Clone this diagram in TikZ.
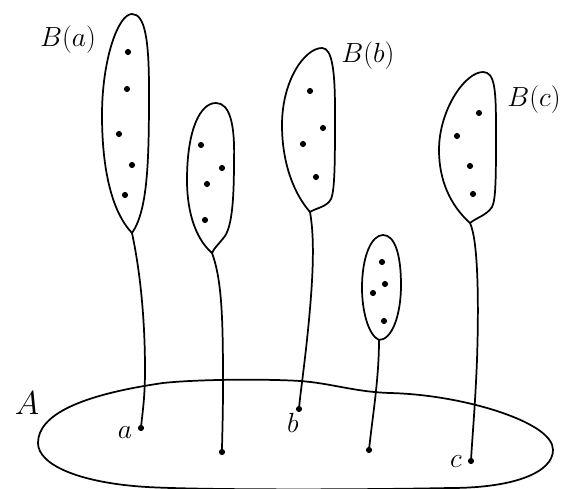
\documentclass[tikz,border=0pt]{standalone}
\begin{document}
\begin{tikzpicture}[x=0.75pt,y=-0.75pt,line width=1.3pt,line join=round,
  pt/.style={circle,fill=black,inner sep=0pt,minimum size=4.6pt},
  cusp/.style={inner sep=0pt,minimum size=0pt},
  lbl/.style={inner sep=0pt,font=\fontsize{20}{24}\selectfont},
  biglbl/.style={inner sep=0pt,font=\fontsize{36}{40}\selectfont}]
\useasboundingbox (0,0) rectangle (561,489);
% big set A
\draw (38,443) .. controls (38,415) and (80,395) .. (163,383)
  .. controls (200,379) and (270,379) .. (300,381)
  .. controls (330,383) and (355,392) .. (390,393)
  .. controls (430,394) and (470,402) .. (500,412)
  .. controls (535,424) and (553,437) .. (553,450)
  .. controls (553,472) and (515,488) .. (450,488)
  .. controls (350,490) and (200,490) .. (147,487)
  .. controls (80,483) and (38,465) .. (38,443) -- cycle;
% cusps
\node[cusp] (ca) at (132,233) {};
\node[cusp] (c2) at (212,253) {};
\node[cusp] (cb) at (310,212) {};
\node[cusp] (c5) at (379,340) {};
\node[cusp] (cc) at (470,223) {};
% blobs
\draw (132,233) .. controls (112,212) and (102,170) .. (102,115)
  .. controls (102,60) and (118,14) .. (132,14)
  .. controls (145,14) and (149,40) .. (149,90)
  .. controls (149,160) and (148,210) .. (132,233) -- cycle;
\draw (212,253) .. controls (197,240) and (187,215) .. (187,180)
  .. controls (187,130) and (200,103) .. (216,103)
  .. controls (230,103) and (235,125) .. (234,160)
  .. controls (234,200) and (232,225) .. (225,236)
  .. controls (219,244) and (214,248) .. (212,253) -- cycle;
\draw (310,212) .. controls (295,195) and (282,165) .. (282,125)
  .. controls (282,80) and (305,48) .. (322,48)
  .. controls (332,48) and (335,70) .. (335,110)
  .. controls (335,160) and (335,190) .. (331,199)
  .. controls (327,207) and (316,208) .. (310,212) -- cycle;
\draw (379,340) .. controls (368,335) and (362,310) .. (362,288)
  .. controls (362,255) and (372,235) .. (383,235)
  .. controls (395,235) and (401,255) .. (401,285)
  .. controls (401,315) and (392,340) .. (379,340) -- cycle;
\draw (470,223) .. controls (450,205) and (439,180) .. (439,150)
  .. controls (439,110) and (465,72) .. (483,72)
  .. controls (495,72) and (496,90) .. (496,130)
  .. controls (496,175) and (496,200) .. (492,207)
  .. controls (487,215) and (476,218) .. (470,223) -- cycle;
% points in blobs
\foreach \p [count=\i] in {(128,52),(127,89),(119,134),(132,165),(125,195)}
  \node[pt] (pa\i) at \p {};
\foreach \p [count=\i] in {(201,145),(222,168),(207,184),(205,220)}
  \node[pt] (p2\i) at \p {};
\foreach \p [count=\i] in {(310,91),(323,128),(303,144),(316,177)}
  \node[pt] (pb\i) at \p {};
\foreach \p [count=\i] in {(382,262),(385,284),(373,293),(384,321)}
  \node[pt] (p5\i) at \p {};
\foreach \p [count=\i] in {(479,113),(457,136),(470,166),(473,194)}
  \node[pt] (pc\i) at \p {};
% points of A
\node[pt] (a) at (141,428) {};
\node[pt] (x2) at (222,452) {};
\node[pt] (b) at (299,409) {};
\node[pt] (x5) at (369,450) {};
\node[pt] (c) at (471,461) {};
% stems
\draw (ca.center) .. controls (142,280) and (145,330) .. (145,370)
  .. controls (145,400) and (142,415) .. (a.center);
\draw (c2.center) .. controls (222,280) and (223,320) .. (223,383)
  .. controls (223,420) and (222,440) .. (x2.center);
\draw (cb.center) .. controls (315,240) and (313,280) .. (308,330)
  .. controls (304,370) and (300,395) .. (b.center);
\draw (c5.center) .. controls (379,380) and (372,420) .. (x5.center);
\draw (cc.center) .. controls (478,240) and (479,300) .. (477,360)
  .. controls (475,410) and (472,440) .. (c.center);
% labels
\node[lbl] (lBa) at (68,40) {$B(a)$};
\node[lbl] (lBb) at (368,56) {$B(b)$};
\node[lbl] (lBc) at (534,100) {$B(c)$};
\node[biglbl] (lA) at (27,403) {$A$};
\node[lbl] (la) at (125,433) {$a$};
\node[lbl] (lb) at (293,423) {$b$};
\node[lbl] (lc) at (456,462) {$c$};
\end{tikzpicture}
\end{document}
